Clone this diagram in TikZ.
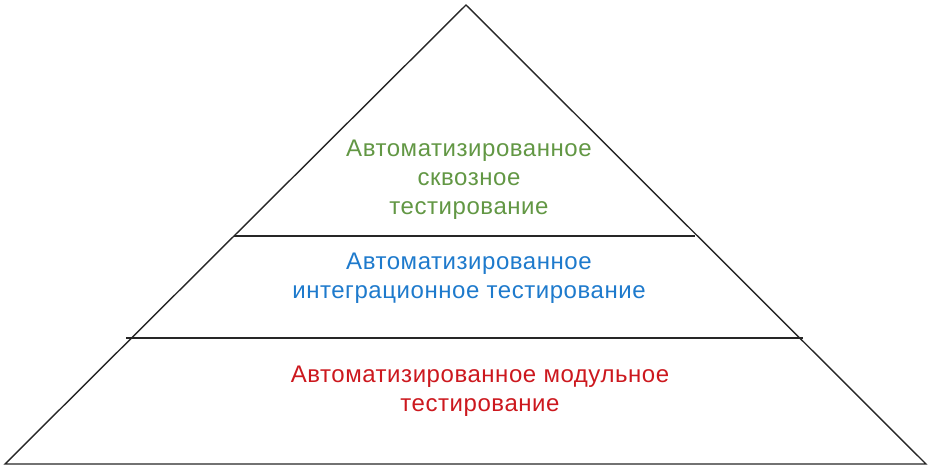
\documentclass[tikz,border=0pt]{standalone}
\usepackage{fontspec}
\setmainfont{Liberation Sans}[LetterSpace=2.3]
\definecolor{tgreen}{RGB}{98,151,68}
\definecolor{tblue}{RGB}{30,122,204}
\definecolor{tred}{RGB}{204,24,30}
\begin{document}
\begin{tikzpicture}[x=1pt,y=-1pt,
  edge/.style={draw=black!85,line width=1.4pt,line join=miter},
  lvl/.style={align=center,font=\fontsize{24}{29}\selectfont,inner sep=0pt}]
\useasboundingbox (0,0) rectangle (929,468);
\coordinate (apex) at (466,5);
\coordinate (bl) at (5,464);
\coordinate (br) at (926,464);
\draw[edge] (bl) -- (apex) -- (br) -- cycle;
\coordinate (l1a) at (234,236);
\coordinate (l1b) at (695,236);
\coordinate (l2a) at (126,338);
\coordinate (l2b) at (803,338);
\draw[edge] (l1a) -- (l1b);
\draw[edge] (l2a) -- (l2b);
\node[lvl,text=tgreen] (top) at (469,180) {Автоматизированное\\сквозное\\тестирование};
\node[lvl,text=tblue] (mid) at (469,278) {Автоматизированное\\интеграционное тестирование};
\node[lvl,text=tred] (bot) at (480,391) {Автоматизированное модульное\\тестирование};
\end{tikzpicture}
\end{document}
